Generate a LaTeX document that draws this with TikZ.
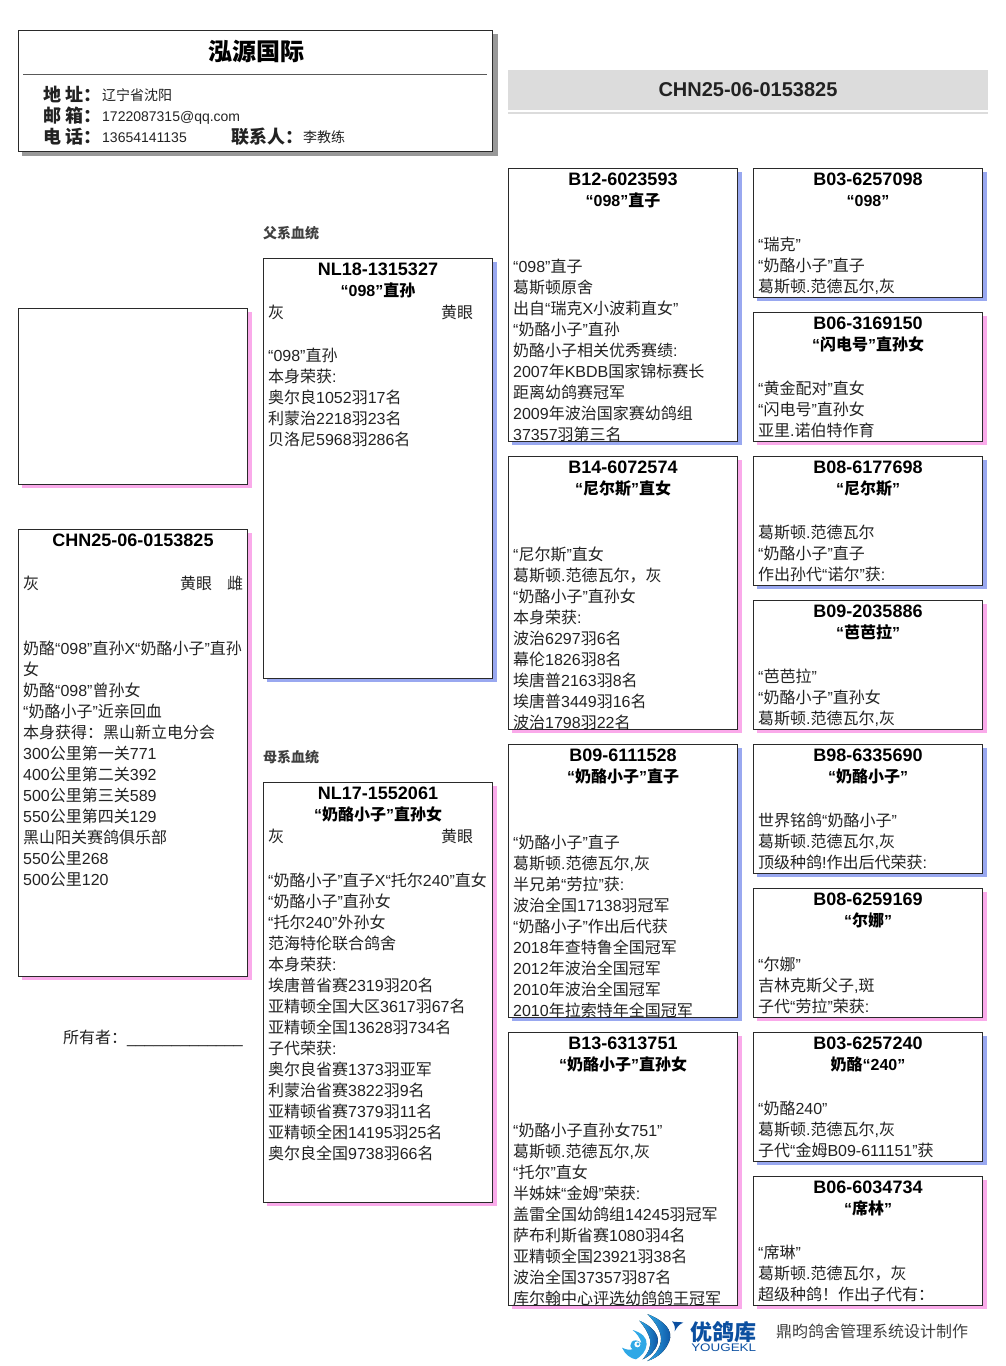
\documentclass[tikz,border=0pt]{standalone}
\usepackage{fontspec}
\usetikzlibrary{calc}
\setmainfont{Liberation Sans}
\newfontfamily\latf{Liberation Sans}
\newfontfamily\cjkf{Noto Sans CJK SC}
\newXeTeXintercharclass\cjkcls
\newcount\cjkloop
\newcommand\setcjkrange[2]{\cjkloop=#1\relax
  \loop\XeTeXcharclass\cjkloop=\cjkcls\relax
  \ifnum\cjkloop<#2\advance\cjkloop by 1\repeat}
\setcjkrange{"4E00}{"9FFF}
\setcjkrange{"3000}{"303F}
\setcjkrange{"FF00}{"FFEF}
\XeTeXcharclass`“=0
\XeTeXcharclass`”=0
\XeTeXinterchartoks 0 \cjkcls={\cjkf}
\XeTeXinterchartoks \cjkcls 0={\latf}
\XeTeXinterchartokenstate=1
\newcommand\subt{\fontsize{16}{21}\selectfont}
\definecolor{shblue}{HTML}{99A8F0}
\definecolor{shpink}{HTML}{FAAAEA}
\definecolor{shgray}{HTML}{999999}
\definecolor{bannergray}{HTML}{DCDCDC}
\definecolor{edge}{HTML}{2A2A2A}
\definecolor{ink}{HTML}{222222}
\definecolor{logodark}{HTML}{0B4FA0}
\definecolor{logolight}{HTML}{2FA8E6}
\tikzset{
  x=1pt,y=-1pt,
  boxface/.style={draw=edge,fill=white,line width=1pt,inner sep=0pt,outer sep=0pt,anchor=north west},
  titletext/.style={anchor=north,align=center,inner sep=0pt,text=black,font=\fontsize{18}{21}\selectfont\bfseries},
  bodytext/.style={anchor=north west,align=left,inner sep=0pt,text=ink,font=\fontsize{16}{21}\selectfont},
  linetext/.style={anchor=base west,inner sep=0pt,text=ink,font=\fontsize{16}{21}\selectfont},
  lblbold/.style={anchor=base west,inner sep=0pt,text=ink,font=\fontsize{18}{21}\selectfont\bfseries},
  lblval/.style={anchor=base west,inner sep=0pt,text=ink,font=\fontsize{14}{21}\selectfont},
  gentitle/.style={anchor=base west,inner sep=0pt,text=black!75,font=\fontsize{14}{21}\selectfont\bfseries},
}
% name, x, y, w, h, shadow, title, body centre-of-first-line y, body
\newcommand\pedbox[9]{%
  \fill[#6] (#2+4,#3+4) rectangle ++(#4,#5);
  \node[boxface,minimum width=#4pt-.5pt,minimum height=#5pt] (#1) at (#2,#3) {};
  \node[titletext] (#1t) at (#2+#4/2,#3+2.3) {\strut #7};
  \node[bodytext] (#1b) at (#2+5,#8-8.2) {\strut #9};
}
\begin{document}
\begin{tikzpicture}
\useasboundingbox (0,0) rectangle (1006,1366);
% ---- header card
\fill[shgray] (22,34) rectangle (497.5,155.5);
\node[boxface,minimum width=474.5pt,minimum height=121pt] (card) at (18,30) {};
\node[anchor=base,inner sep=0pt,text=black,font=\fontsize{24}{28}\selectfont\bfseries] (cardtitle) at (256,60) {\cjkf 泓源国际};
\coordinate (ruleL) at (23,74); \coordinate (ruleR) at (487,74);
\draw[black!65,line width=.8pt] (ruleL) -- (ruleR);
\node[lblbold] (la) at (43,101) {\cjkf 地 址^^^^ff1a};
\node[lblbold] (lb) at (43,122) {\cjkf 邮 箱^^^^ff1a};
\node[lblbold] (lc) at (43,143) {\cjkf 电 话^^^^ff1a};
\node[lblval] (va) at (102,100) {\cjkf 辽宁省沈阳};
\node[lblval] (vb) at (102,121) {1722087315@qq.com};
\node[lblval] (vc) at (102,142) {13654141135};
\node[lblbold] (ld) at (231,143) {\cjkf 联系人^^^^ff1a};
\node[lblval] (vd) at (303,142) {\cjkf 李教练};
% ---- banner
\fill[bannergray] (508,70) rectangle (988,110);
\fill[bannergray] (508,112) rectangle (988,114);
\node[inner sep=0pt,text=ink,font=\fontsize{20}{24}\selectfont\bfseries] (bannertext) at (748,90) {CHN25-06-0153825};
% ---- section labels
\node[gentitle] (gfa) at (263,238) {\cjkf 父系血统};
\node[gentitle] (gmo) at (263,762) {\cjkf 母系血统};
% ---- photo box
\fill[shpink] (22,312) rectangle ++(230,176);
\node[boxface,minimum width=229.5pt,minimum height=176pt] (photo) at (18,308) {};
% ---- pigeon box
\pedbox{self}{18}{529}{230}{447}{shpink}{CHN25-06-0153825}{648}{\cjkf 奶酪“098”直孙X“奶酪小子”直孙\\\cjkf 女\\\cjkf 奶酪“098”曾孙女\\“奶酪小子”近亲回血\\\cjkf 本身获得^^^^ff1a黑山新立电分会\\300公里第一关771\\400公里第二关392\\500公里第三关589\\550公里第四关129\\\cjkf 黑山阳关赛鸽俱乐部\\550公里268\\500公里120}
\node[linetext] (selfc) at (23,589) {\cjkf 灰};
\node[linetext] (selfe) at (180,589) {\cjkf 黄眼};
\node[linetext] (selfs) at (227,589) {\cjkf 雌};
\node[linetext] (owner) at (63,1043) {\cjkf 所有者^^^^ff1a};
\node[linetext] (ownerline) at (127,1043) {\_\_\_\_\_\_\_\_\_\_\_\_\_};
% ---- parents
\pedbox{sire}{263}{258}{230}{420}{shblue}{NL18-1315327\\\subt “098”直孙}{355}{“098”直孙\\\cjkf 本身荣获:\\\cjkf 奥尔良1052羽17名\\\cjkf 利蒙治2218羽23名\\\cjkf 贝洛尼5968羽286名}
\node[linetext] (sirec) at (268,318) {\cjkf 灰};
\node[linetext] (siree) at (441,318) {\cjkf 黄眼};
\pedbox{dam}{263}{782}{230}{420}{shpink}{NL17-1552061\\\subt “奶酪小子”直孙女}{880}{“奶酪小子”直子X“托尔240”直女\\“奶酪小子”直孙女\\“托尔240”外孙女\\\cjkf 范海特伦联合鸽舍\\\cjkf 本身荣获:\\\cjkf 埃唐普省赛2319羽20名\\\cjkf 亚精顿全国大区3617羽67名\\\cjkf 亚精顿全国13628羽734名\\\cjkf 子代荣获:\\\cjkf 奥尔良省赛1373羽亚军\\\cjkf 利蒙治省赛3822羽9名\\\cjkf 亚精顿省赛7379羽11名\\\cjkf 亚精顿全困14195羽25名\\\cjkf 奥尔良全国9738羽66名}
\node[linetext] (damc) at (268,842) {\cjkf 灰};
\node[linetext] (dame) at (441,842) {\cjkf 黄眼};
% ---- grandparents
\pedbox{gA}{508}{168}{230}{273}{shblue}{B12-6023593\\\subt “098”直子}{266}{“098”直子\\\cjkf 葛斯顿原舍\\\cjkf 出自“瑞克X小波莉直女”\\“奶酪小子”直孙\\\cjkf 奶酪小子相关优秀赛绩:\\2007年KBDB国家锦标赛长\\\cjkf 距离幼鸽赛冠军\\2009年波治国家赛幼鸽组\\37357羽第三名}
\pedbox{gB}{508}{456}{230}{273}{shpink}{B14-6072574\\\subt “尼尔斯”直女}{554}{“尼尔斯”直女\\\cjkf 葛斯顿.范德瓦尔^^^^ff0c灰\\“奶酪小子”直孙女\\\cjkf 本身荣获:\\\cjkf 波治6297羽6名\\\cjkf 幕伦1826羽8名\\\cjkf 埃唐普2163羽8名\\\cjkf 埃唐普3449羽16名\\\cjkf 波治1798羽22名}
\pedbox{gC}{508}{744}{230}{273}{shblue}{B09-6111528\\\subt “奶酪小子”直子}{842}{“奶酪小子”直子\\\cjkf 葛斯顿.范德瓦尔,灰\\\cjkf 半兄弟“劳拉”获:\\\cjkf 波治全国17138羽冠军\\“奶酪小子”作出后代获\\2018年查特鲁全国冠军\\2012年波治全国冠军\\2010年波治全国冠军\\2010年拉索特年全国冠军}
\pedbox{gD}{508}{1032}{230}{273}{shpink}{B13-6313751\\\subt “奶酪小子”直孙女}{1130}{“奶酪小子直孙女751”\\\cjkf 葛斯顿.范德瓦尔,灰\\“托尔”直女\\\cjkf 半姊妹“金姆”荣获:\\\cjkf 盖雷全国幼鸽组14245羽冠军\\\cjkf 萨布利斯省赛1080羽4名\\\cjkf 亚精顿全国23921羽38名\\\cjkf 波治全国37357羽87名\\\cjkf 库尔翰中心评选幼鸽鸽王冠军}
% ---- great-grandparents
\pedbox{ggA}{753}{168}{230}{129}{shblue}{B03-6257098\\\subt “098”}{244}{“瑞克”\\“奶酪小子”直子\\\cjkf 葛斯顿.范德瓦尔,灰}
\pedbox{ggB}{753}{312}{230}{129}{shpink}{B06-3169150\\\subt “闪电号”直孙女}{388}{“黄金配对”直女\\“闪电号”直孙女\\\cjkf 亚里.诺伯特作育}
\pedbox{ggC}{753}{456}{230}{129}{shblue}{B08-6177698\\\subt “尼尔斯”}{532}{\cjkf 葛斯顿.范德瓦尔\\“奶酪小子”直子\\\cjkf 作出孙代“诺尔”获:}
\pedbox{ggD}{753}{600}{230}{129}{shpink}{B09-2035886\\\subt “芭芭拉”}{676}{“芭芭拉”\\“奶酪小子”直孙女\\\cjkf 葛斯顿.范德瓦尔,灰}
\pedbox{ggE}{753}{744}{230}{129}{shblue}{B98-6335690\\\subt “奶酪小子”}{820}{\cjkf 世界铭鸽“奶酪小子”\\\cjkf 葛斯顿.范德瓦尔,灰\\\cjkf 顶级种鸽!作出后代荣获:}
\pedbox{ggF}{753}{888}{230}{129}{shpink}{B08-6259169\\\subt “尔娜”}{964}{“尔娜”\\\cjkf 吉林克斯父子,斑\\\cjkf 子代“劳拉”荣获:}
\pedbox{ggG}{753}{1032}{230}{129}{shblue}{B03-6257240\\\subt\cjkf 奶酪“240”}{1108}{“奶酪240”\\\cjkf 葛斯顿.范德瓦尔,灰\\\cjkf 子代“金姆B09-611151”获}
\pedbox{ggH}{753}{1176}{230}{129}{shpink}{B06-6034734\\\subt “席林”}{1252}{“席琳”\\\cjkf 葛斯顿.范德瓦尔^^^^ff0c灰\\\cjkf 超级种鸽^^^^ff01作出子代有^^^^ff1a}
% ---- footer logo
\begin{scope}[shift={(610,1306)},x=.3333pt,y=-.3333pt]
  \fill[left color=logolight,right color=logodark] (112,24) .. controls (165,45) and (190,75) .. (178,105) .. controls (168,132) and (145,155) .. (112,165) .. controls (140,145) and (158,115) .. (152,88) .. controls (148,66) and (130,42) .. (112,24) -- cycle;
  \fill[left color=logolight,right color=logodark] (88,44) .. controls (125,60) and (148,85) .. (143,110) .. controls (138,133) and (120,150) .. (98,160) .. controls (115,140) and (125,120) .. (120,100) .. controls (115,80) and (102,60) .. (88,44) -- cycle;
  \fill[logolight] (68,72) .. controls (95,80) and (112,95) .. (110,115) .. controls (108,135) and (95,150) .. (78,160) .. controls (62,158) and (45,145) .. (36,125) .. controls (52,132) and (60,133) .. (68,130) .. controls (50,118) and (70,88) .. (95,112) .. controls (90,95) and (80,82) .. (68,72) -- cycle;
  \fill[white] (82,115) circle (9);
  \draw[logolight,line width=1pt] (84,114) circle (3);
  \fill[logodark] (186,46) .. controls (198,50) and (208,46) .. (220,50) .. controls (208,54) and (202,62) .. (194,76) .. controls (196,66) and (194,54) .. (186,46) -- cycle;
\end{scope}
\node[anchor=base west,inner sep=0pt,text=logodark,font=\fontsize{22}{24}\selectfont\bfseries] (brand) at (690,1340) {\cjkf 优鸽库};
\node[anchor=base west,inner sep=0pt,text=logodark,xscale=1.22,font=\fontsize{11}{12}\selectfont] (brandlat) at (691,1351) {YOUGEKL};
\node[anchor=base west,inner sep=0pt,text=black!75,font=\fontsize{16}{20}\selectfont] (credit) at (776,1337) {\cjkf 鼎昀鸽舍管理系统设计制作};
\end{tikzpicture}
\end{document}
